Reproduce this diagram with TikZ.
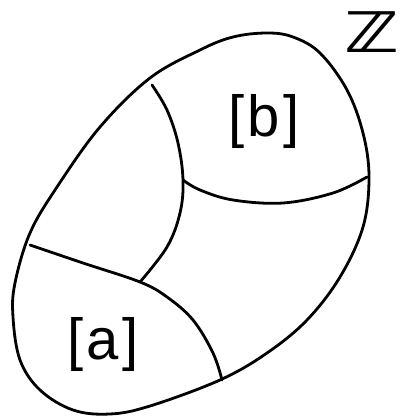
\documentclass[tikz,border=0pt]{standalone}
\usepackage{fontspec}
\setsansfont{Liberation Sans}
\newfontfamily\zfont{DejaVu Sans}
\begin{document}
\begin{tikzpicture}[x=1pt,y=1pt,
  ink/.style={line width=2.8pt,line cap=round,line join=round},
  lab/.style={font=\sffamily\fontsize{58}{62}\selectfont,inner sep=0pt}]
\useasboundingbox (0,0) rectangle (401,418);
% outer blob
\draw[ink] plot[smooth cycle,tension=0.6] coordinates {
 (267,385) (293,381) (320,365) (347,328) (363,285) (369,241) (363,191)
 (340,141) (307,98) (267,65) (220,38) (150,12) (110,4) (73,8) (40,28)
 (20,58) (13,101) (15,135) (30,185) (57,231) (100,291) (150,340) (200,368) (233,381)};
% inner curves
\coordinate (j1) at (183,238);
\coordinate (j2) at (140,136);
\draw[ink] plot[smooth,tension=0.6] coordinates {(152,333) (167,308) (178,275) (j1) (180,205) (167,171) (j2)};
\draw[ink] plot[smooth,tension=0.6] coordinates {(j1) (200,228) (233,218) (283,215) (333,225) (367,241)};
\draw[ink] plot[smooth,tension=0.6] coordinates {(30,173) (83,155) (j2) (167,121) (193,98) (213,65) (222,38)};
% labels
\node[lab] (b) at (264,296) {[\hspace{3pt}b\hspace{3pt}]};
\node[lab] (a) at (103,73) {[\hspace{3pt}a\hspace{3pt}]};
\node[inner sep=0pt,xscale=1.3] (z) at (372,386) {\zfont\bfseries\fontsize{56}{60}\selectfont ℤ};
\end{tikzpicture}
\end{document}
